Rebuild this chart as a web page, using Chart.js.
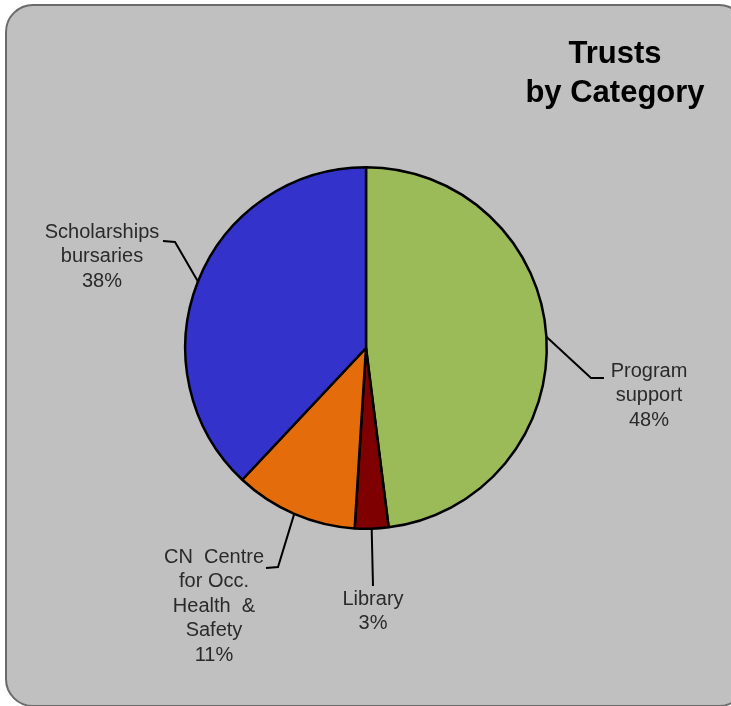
<!DOCTYPE html>
<html>
<head>
<meta charset="utf-8">
<script src="https://cdn.jsdelivr.net/npm/chart.js@4.4.1/dist/chart.umd.min.js"></script>
<style>
  html, body { margin: 0; padding: 0; background: #ffffff; overflow: hidden; }
  #panel {
    position: absolute; left: 5px; top: 4px; width: 738px; height: 699px;
    background: #c0c0c0; border: 2px solid #6a6a6a; border-radius: 28px;
  }
  #wrap { position: absolute; left: 0; top: 0; width: 731px; height: 706px; }
</style>
</head>
<body>
<div id="panel"></div>
<div id="wrap"><canvas id="myChart" width="731" height="706"></canvas></div>
<script>
"use strict";

const CATEGORIES = ["Program support", "Library", "CN Centre for Occ. Health & Safety", "Scholarships bursaries"];
const LABEL_LINES = [
    ["Program", "support"],
    ["Library"],
    ["CN  Centre", "for Occ.", "Health  &", "Safety"],
    ["Scholarships", "bursaries"]
];
const PERCENTS = [48, 3, 11, 38];
const COLORS = ["#9bbb59", "#7f0000", "#e46c0a", "#3333cc"];
const TITLE = ["Trusts", "by Category"];

// where each label sits: elbow of the leader, end of the leader, text centre/top
const LABEL_LAYOUT = [
    { elbow: [591, 378], end: [604, 378], text: [649, 361] },
    { elbow: [373, 586], end: [373, 586], text: [373, 589] },
    { elbow: [278, 567], end: [266, 568], text: [214, 547] },
    { elbow: [175, 242], end: [163, 241], text: [102, 222] }
];

const labelPlugin = {
    id: "labelPlugin",
    afterDraw(chart) {
        const ctx = chart.ctx;
        const arcs = chart.getDatasetMeta(0).data;
        ctx.save();
        // title
        ctx.fillStyle = "#000000";
        ctx.font = "bold 31px 'Liberation Sans', Arial, sans-serif";
        ctx.textAlign = "center";
        ctx.textBaseline = "middle";
        ctx.fillText(TITLE[0], 615, 54);
        ctx.fillText(TITLE[1], 615, 93);

        ctx.font = "20px 'Liberation Sans', Arial, sans-serif";
        ctx.textBaseline = "top";
        arcs.forEach((arc, i) => {
            const mid = (arc.startAngle + arc.endAngle) / 2;
            const sx = arc.x + Math.cos(mid) * arc.outerRadius;
            const sy = arc.y + Math.sin(mid) * arc.outerRadius;
            const lay = LABEL_LAYOUT[i];
            ctx.strokeStyle = "#000000";
            ctx.lineWidth = 2;
            ctx.beginPath();
            ctx.moveTo(sx, sy);
            ctx.lineTo(lay.elbow[0], lay.elbow[1]);
            ctx.lineTo(lay.end[0], lay.end[1]);
            ctx.stroke();

            ctx.fillStyle = "#2a2a2a";
            const lines = LABEL_LINES[i].concat([PERCENTS[i] + "%"]);
            lines.forEach((t, j) => {
                ctx.fillText(t, lay.text[0], lay.text[1] + j * 24.5);
            });
        });
        ctx.restore();
    }
};

function initChart()
{
    const data = {
        labels: CATEGORIES,
        datasets: [{
            data: PERCENTS,
            backgroundColor: COLORS,
            borderColor: "#000000",
            borderWidth: 2.5
        }]
    };
    const config = {
        type: "pie",
        data: data,
        options: {
            responsive: false,
            animation: false,
            layout: { padding: { left: 184, right: 183, top: 165, bottom: 175 } },
            plugins: {
                legend: { display: false },
                tooltip: { enabled: false }
            }
        },
        plugins: [labelPlugin]
    };
    new Chart(document.getElementById("myChart"), config);
}

document.addEventListener("DOMContentLoaded", initChart);
</script>
</body>
</html>
